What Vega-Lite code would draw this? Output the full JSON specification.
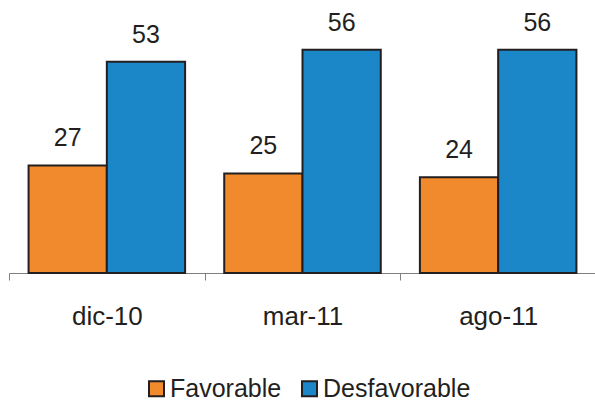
{
  "$schema": "https://vega.github.io/schema/vega-lite/v6.json",
  "width": 587,
  "height": 263,
  "padding": {"left": 8, "top": 10, "right": 0, "bottom": 5},
  "background": "white",
  "config": {"view": {"stroke": null}, "font": "Liberation Sans"},
  "data": {
    "values": [
      {"periodo": "dic-10", "serie": "Favorable", "valor": 27},
      {"periodo": "dic-10", "serie": "Desfavorable", "valor": 53},
      {"periodo": "mar-11", "serie": "Favorable", "valor": 25},
      {"periodo": "mar-11", "serie": "Desfavorable", "valor": 56},
      {"periodo": "ago-11", "serie": "Favorable", "valor": 24},
      {"periodo": "ago-11", "serie": "Desfavorable", "valor": 56}
    ]
  },
  "encoding": {
    "x": {
      "field": "periodo", "type": "nominal", "sort": null, "title": null,
      "scale": {"paddingInner": 0, "paddingOuter": 0},
      "axis": {
        "tickBand": "extent", "labelAngle": 0, "labelFontSize": 26, "labelColor": "#231F20",
        "tickSize": 7, "tickColor": "#808080", "domainColor": "#808080", "domainWidth": 1, "tickWidth": 1,
        "labelPadding": 23
      }
    },
    "xOffset": {"field": "serie", "type": "nominal", "sort": ["Favorable", "Desfavorable"], "scale": {"paddingOuter": 0.25, "paddingInner": 0}},
    "y": {"field": "valor", "type": "quantitative", "scale": {"domain": [0, 66]}, "axis": null}
  },
  "layer": [
    {
      "mark": {"type": "bar", "stroke": "#231F20", "strokeWidth": 2},
      "encoding": {
        "color": {
          "field": "serie", "type": "nominal", "title": null,
          "sort": ["Favorable", "Desfavorable"],
          "scale": {"domain": ["Favorable", "Desfavorable"], "range": ["#F08A2C", "#1B87C8"]},
          "legend": {
            "orient": "none", "legendX": 135, "legendY": 366, "direction": "horizontal",
            "symbolType": "square", "symbolSize": 225,
            "symbolStrokeColor": "#231F20", "symbolStrokeWidth": 2, "labelFontSize": 25, "labelColor": "#231F20",
            "columnPadding": 15, "labelOffset": 1, "padding": 0
          }
        }
      }
    },
    {
      "mark": {"type": "text", "baseline": "alphabetic", "dy": -19, "fontSize": 25, "color": "#231F20"},
      "encoding": {"text": {"field": "valor", "type": "quantitative"}}
    }
  ]
}
